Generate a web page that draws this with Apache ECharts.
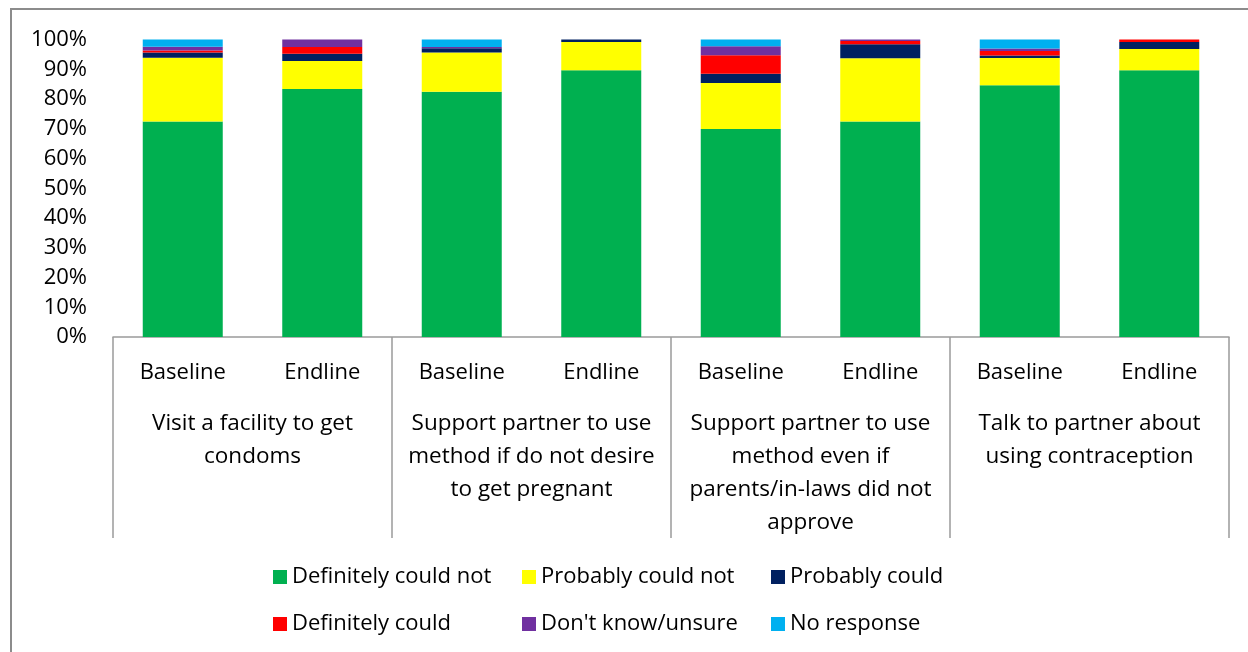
<!DOCTYPE html>
<html>
<head>
<meta charset="utf-8">
<title>Self-efficacy for contraceptive actions, baseline vs endline</title>
<script src="https://cdn.jsdelivr.net/npm/echarts@6/dist/echarts.min.js"></script>
<style>
  html, body { margin: 0; padding: 0; background: #fff; }
  #chart { width: 1248px; height: 652px; }
</style>
</head>
<body>
<div id="chart"></div>
<script>
// Survey rounds shown for each action (inner axis)
const rounds = ['Baseline', 'Endline', 'Baseline', 'Endline', 'Baseline', 'Endline', 'Baseline', 'Endline'];

// Actions asked about (outer axis)
const actions = [
  'Visit a facility to get\ncondoms',
  'Support partner to use\nmethod if do not desire\nto get pregnant',
  'Support partner to use\nmethod even if\nparents/in-laws did not\napprove',
  'Talk to partner about\nusing contraception'
];

// Percent of respondents per answer, one value per bar
const definitelyCouldNot = [72.4, 83.4, 82.4, 89.7, 69.9, 72.4, 84.6, 89.7];
const probablyCouldNot   = [21.5,  9.4, 13.2,  9.5, 15.5, 21.3,  9.2,  7.1];
const probablyCould      = [ 1.7,  2.4,  1.5,  0.8,  3.1,  4.7,  0.8,  2.4];
const definitelyCould    = [ 0.7,  2.3,  0.0,  0.0,  6.2,  1.1,  1.5,  0.8];
const dontKnow           = [ 1.3,  2.5,  0.4,  0.0,  3.0,  0.6,  0.9,  0.0];
const noResponse         = [ 2.4,  0.0,  2.5,  0.0,  2.3,  0.0,  3.0,  0.0];

// Y axis tick values
const yTicks = [0, 10, 20, 30, 40, 50, 60, 70, 80, 90, 100];

const seriesDefs = [
  { name: 'Definitely could not', data: definitelyCouldNot, color: '#00B050' },
  { name: 'Probably could not',   data: probablyCouldNot,   color: '#FFFF00' },
  { name: 'Probably could',       data: probablyCould,      color: '#002060' },
  { name: 'Definitely could',     data: definitelyCould,    color: '#FF0000' },
  { name: "Don't know/unsure",    data: dontKnow,           color: '#7030A0' },
  { name: 'No response',          data: noResponse,         color: '#00B0F0' }
];

const FONT = '"Open Sans", "Noto Sans", sans-serif';
const FS = 22;
const AXIS_GREY = '#9a9a9a';

// One legend block per entry, laid out as a 3-column grid
const legends = seriesDefs.map((s, i) => ({
  data: [s.name],
  left: 268 + (i % 3) * 249,
  top: 561 + Math.floor(i / 3) * 47,
  itemWidth: 14,
  itemHeight: 14,
  icon: 'rect',
  selectedMode: false,
  textStyle: { fontFamily: FONT, fontSize: FS, color: '#000' }
}));

const chart = echarts.init(document.getElementById('chart'), null, { renderer: 'canvas' });

chart.setOption({
  animation: false,
  backgroundColor: '#fff',
  textStyle: { fontFamily: FONT },
  graphic: [{
    type: 'rect',
    shape: { x: 11, y: 9, width: 1300, height: 700 },
    style: { fill: 'none', stroke: '#8c8c8c', lineWidth: 2 },
    silent: true,
    z: 100
  }],
  legend: legends,
  grid: { left: 113, right: 19, top: 39.5, bottom: 315, containLabel: false },
  xAxis: [
    {
      type: 'category',
      data: rounds,
      position: 'bottom',
      axisLine: { show: true, lineStyle: { color: AXIS_GREY, width: 1.5 } },
      axisTick: { show: false },
      axisLabel: { interval: 0, fontSize: FS, color: '#000', margin: 25, fontFamily: FONT }
    },
    {
      type: 'category',
      data: actions,
      position: 'bottom',
      axisLine: { show: false },
      axisTick: { show: true, interval: 0, length: 201, lineStyle: { color: AXIS_GREY, width: 1.5 } },
      axisLabel: {
        interval: 0, fontSize: 22.5, color: '#000', margin: 70,
        lineHeight: 33, verticalAlign: 'top', fontFamily: FONT
      }
    }
  ],
  yAxis: {
    type: 'value',
    min: yTicks[0],
    max: yTicks[yTicks.length - 1],
    interval: yTicks[1] - yTicks[0],
    axisLine: { show: false },
    axisTick: { show: false },
    splitLine: { show: false },
    axisLabel: { formatter: '{value}%', fontSize: FS, color: '#000', margin: 26, fontFamily: FONT }
  },
  series: seriesDefs.map(s => ({
    name: s.name,
    type: 'bar',
    stack: 'total',
    xAxisIndex: 0,
    barWidth: 80,
    data: s.data,
    itemStyle: { color: s.color },
    emphasis: { disabled: true }
  }))
});
</script>
</body>
</html>
